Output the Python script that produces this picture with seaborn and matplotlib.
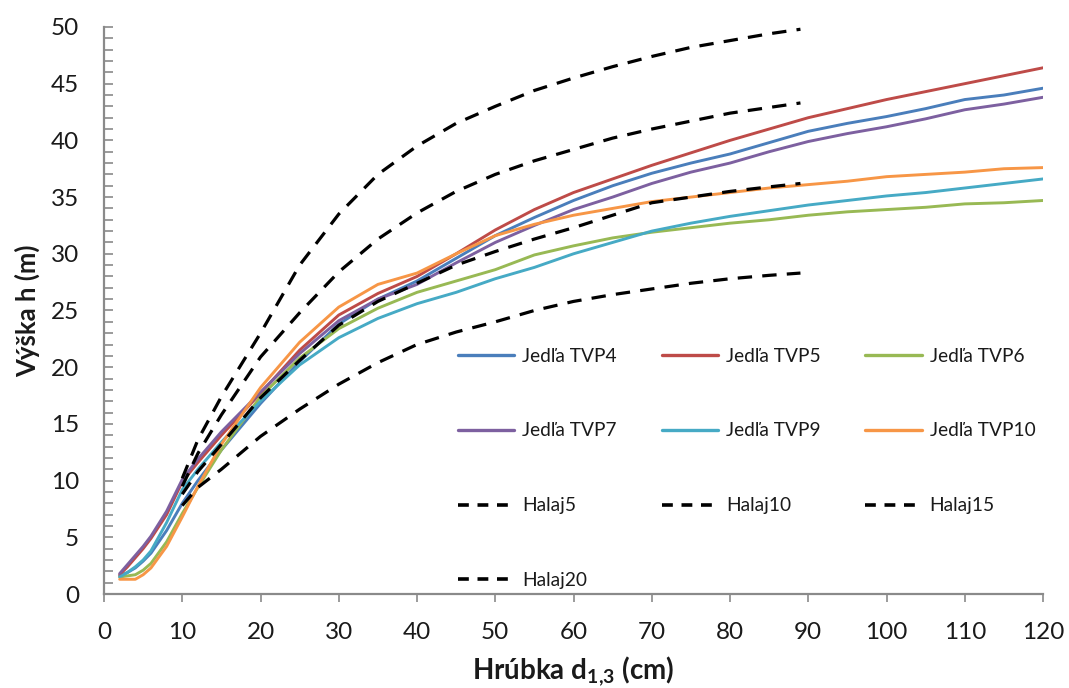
import matplotlib
matplotlib.use("Agg")
import matplotlib.pyplot as plt
import seaborn as sns
import pandas as pd
from matplotlib.ticker import MultipleLocator
from matplotlib.lines import Line2D

# ---- data ----
d_tvp = [2, 3, 4, 5, 6, 8, 10, 12, 15, 20, 25, 30, 35, 40, 45, 50, 55, 60, 65, 70,
         75, 80, 85, 90, 95, 100, 105, 110, 115, 120]
tvp4 = [1.6, 1.9, 2.3, 2.9, 3.6, 5.6, 8.0, 10.0, 12.7, 16.8, 20.5, 23.8, 26.0, 27.6, 29.6,
        31.6, 33.2, 34.7, 36.0, 37.1, 38.0, 38.8, 39.8, 40.8, 41.5, 42.1, 42.8, 43.6, 44.0, 44.6]
tvp5 = [1.7, 2.4, 3.2, 4.0, 4.9, 7.0, 9.9, 11.6, 14.0, 17.7, 21.5, 24.6, 26.5, 28.0, 30.0,
        32.1, 33.9, 35.4, 36.6, 37.8, 38.9, 40.0, 41.0, 42.0, 42.8, 43.6, 44.3, 45.0, 45.7, 46.4]
tvp6 = [1.5, 1.6, 1.7, 2.1, 2.7, 4.6, 7.1, 9.4, 12.7, 17.4, 20.8, 23.4, 25.2, 26.6, 27.6,
        28.6, 29.9, 30.7, 31.4, 31.9, 32.3, 32.7, 33.0, 33.4, 33.7, 33.9, 34.1, 34.4, 34.5, 34.7]
tvp7 = [1.8, 2.6, 3.4, 4.2, 5.1, 7.3, 10.1, 11.9, 14.3, 17.8, 21.2, 24.1, 26.0, 27.3, 29.2,
        31.0, 32.5, 33.9, 35.0, 36.2, 37.2, 38.0, 39.0, 39.9, 40.6, 41.2, 41.9, 42.7, 43.2, 43.8]
tvp9 = [1.5, 1.9, 2.4, 3.0, 3.8, 6.3, 9.2, 11.0, 13.4, 17.0, 20.2, 22.6, 24.3, 25.6, 26.6,
        27.8, 28.8, 30.0, 31.0, 32.0, 32.7, 33.3, 33.8, 34.3, 34.7, 35.1, 35.4, 35.8, 36.2, 36.6]
tvp10 = [1.3, 1.3, 1.3, 1.7, 2.3, 4.2, 6.8, 9.5, 13.2, 18.2, 22.2, 25.3, 27.3, 28.3, 30.0,
         31.6, 32.6, 33.4, 34.0, 34.6, 35.0, 35.4, 35.8, 36.1, 36.4, 36.8, 37.0, 37.2, 37.5, 37.6]

d_halaj = [10, 12, 15, 20, 25, 30, 35, 40, 45, 50, 55, 60, 65, 70, 75, 80, 85, 89]
halaj5 = [7.8, 9.4, 11.0, 13.9, 16.3, 18.5, 20.4, 22.0, 23.1, 24.0, 25.0, 25.8, 26.4, 26.9,
          27.4, 27.8, 28.1, 28.3]
halaj10 = [8.8, 10.8, 13.2, 17.3, 20.6, 23.7, 25.8, 27.4, 29.0, 30.2, 31.3, 32.3, 33.4, 34.5,
           35.0, 35.5, 35.9, 36.2]
halaj15 = [9.5, 12.4, 15.8, 20.9, 24.8, 28.4, 31.3, 33.6, 35.5, 37.0, 38.2, 39.2, 40.2, 41.0,
           41.7, 42.4, 42.9, 43.3]
halaj20 = [10.2, 13.6, 17.4, 23.0, 29.0, 33.5, 37.0, 39.5, 41.5, 43.0, 44.4, 45.5, 46.5, 47.4,
           48.2, 48.8, 49.4, 49.8]

tvp_names = ["Jedľa TVP4", "Jedľa TVP5", "Jedľa TVP6", "Jedľa TVP7", "Jedľa TVP9", "Jedľa TVP10"]
tvp_series = [tvp4, tvp5, tvp6, tvp7, tvp9, tvp10]
tvp_colors = ["#4A7EBB", "#BE4B48", "#98B954", "#7D60A0", "#46AAC5", "#F79646"]
halaj_names = ["Halaj5", "Halaj10", "Halaj15", "Halaj20"]
halaj_series = [halaj5, halaj10, halaj15, halaj20]

x_ticks = list(range(0, 121, 10))
y_ticks = list(range(0, 51, 5))

# ---- plotting ----
sns.set_style("white")
plt.rcParams["font.family"] = ["Lato", "DejaVu Sans"]
plt.rcParams["mathtext.fontset"] = "custom"
plt.rcParams["mathtext.rm"] = "Lato"
plt.rcParams["mathtext.bf"] = "Lato:bold"

fig = plt.figure(figsize=(10.69, 6.88), dpi=100)
ax = fig.add_axes([0.0973, 0.1366, 0.8784, 0.8242])

handles = {}
for name, vals, col in zip(tvp_names, tvp_series, tvp_colors):
    df = pd.DataFrame({"d": d_tvp, "h": vals})
    sns.lineplot(data=df, x="d", y="h", ax=ax, color=col, linewidth=2.1, label=name,
                 legend=False)
    handles[name] = Line2D([], [], color=col, linewidth=2.4)

for name, vals in zip(halaj_names, halaj_series):
    df = pd.DataFrame({"d": d_halaj, "h": vals})
    sns.lineplot(data=df, x="d", y="h", ax=ax, color="black", linewidth=2.3, label=name,
                 legend=False)
    ax.lines[-1].set_dashes((4.5, 3.2))
    h = Line2D([], [], color="black", linewidth=2.6)
    h.set_dashes((3.0, 2.4))
    handles[name] = h

ax.set_xlim(0, 120)
ax.set_ylim(0, 50)
ax.set_xticks(x_ticks)
ax.set_yticks(y_ticks)
ax.yaxis.set_minor_locator(MultipleLocator(1))

for s in ["top", "right"]:
    ax.spines[s].set_visible(False)
for s in ["left", "bottom"]:
    ax.spines[s].set_color("#8a8a8a")
    ax.spines[s].set_linewidth(1.6)

ax.tick_params(axis="y", which="both", direction="in", length=6.5, width=1.2,
               color="#8a8a8a", labelsize=17.5, labelcolor="#1a1a1a", pad=18, left=True)
ax.tick_params(axis="x", which="major", direction="out", length=6, width=1.2,
               color="#8a8a8a", labelsize=17.5, labelcolor="#1a1a1a", pad=14, bottom=True)

ax.set_ylabel("Výška h (m)", fontsize=18.5, fontweight="bold", color="#1a1a1a", labelpad=8)
ax.set_xlabel(r"Hrúbka d$_{\mathbf{1{,}3}}$ (cm)", fontsize=20, fontweight="bold",
              color="#1a1a1a", labelpad=8)

order = ["Jedľa TVP4", "Jedľa TVP7", "Halaj5", "Halaj20",
         "Jedľa TVP5", "Jedľa TVP9", "Halaj10",
         "Jedľa TVP6", "Jedľa TVP10", "Halaj15"]
leg = fig.legend([handles[n] for n in order], order, ncol=3, loc="upper left",
                 bbox_to_anchor=(0.421, 0.506), frameon=False, fontsize=13.8,
                 handlelength=2.95, handletextpad=0.4, columnspacing=2.35,
                 labelspacing=3.02, borderaxespad=0)
for t in leg.get_texts():
    t.set_color("#1a1a1a")

fig.savefig("out.png", dpi=100)
